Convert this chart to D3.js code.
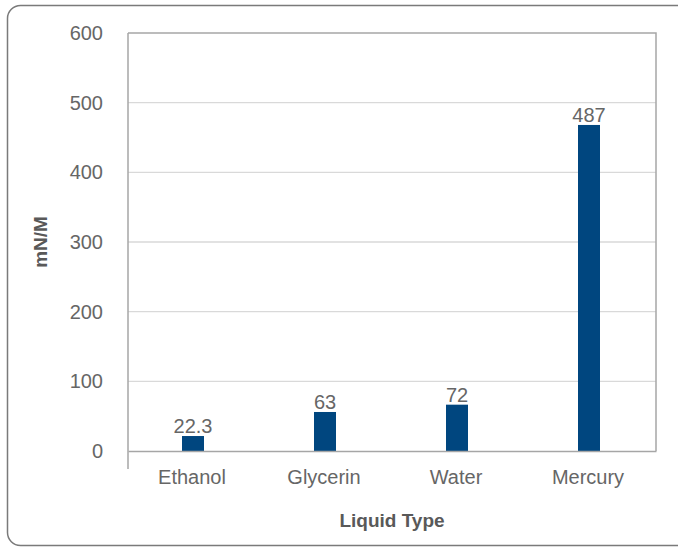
<!DOCTYPE html>
<html>
<head>
<meta charset="utf-8">
<script src="https://cdn.jsdelivr.net/npm/d3@7"></script>
<style>
  html, body { margin: 0; padding: 0; background: #fff; }
  svg { display: block; }
  text { font-family: "Liberation Sans", Arial, sans-serif; }
</style>
</head>
<body>
<svg id="chart" width="678" height="548"></svg>
<script>
const categories = ["Ethanol", "Glycerin", "Water", "Mercury"];
const values = [21.5, 56, 66.5, 468];
const valueLabels = ["22.3", "63", "72", "487"];
const yTicks = [0, 100, 200, 300, 400, 500, 600];
const xTitle = "Liquid Type";
const yTitle = "mN/M";

const svg = d3.select("#chart");
const W = 678, H = 548;
const m = { left: 128, right: 22, top: 33, bottom: 97 };
const pw = W - m.left - m.right, ph = H - m.top - m.bottom;

// outer frame
svg.append("rect")
  .attr("x", 7.5).attr("y", 5.5)
  .attr("width", 720).attr("height", 540).attr("rx", 13)
  .attr("fill", "none").attr("stroke", "#7a7a7a").attr("stroke-width", 1.5);

const g = svg.append("g").attr("transform", `translate(${m.left},${m.top})`);

const x = d3.scaleBand().domain(categories).range([0, pw]).paddingInner(0).paddingOuter(0);
const y = d3.scaleLinear().domain([0, 600]).range([ph, 0]);

// gridlines
g.selectAll("line.grid").data(yTicks.filter(d => d > 0 && d < 600)).join("line")
  .attr("class", "grid")
  .attr("x1", 0).attr("x2", pw)
  .attr("y1", d => y(d)).attr("y2", d => y(d))
  .attr("stroke", "#d9d9d9").attr("stroke-width", 1.3);

// plot border top/right
g.append("path")
  .attr("d", `M0,${y(600)}H${pw}V${y(0)}`)
  .attr("fill", "none").attr("stroke", "#a6a6a6").attr("stroke-width", 1.5);

// bars
const bw = 22;
g.selectAll("rect.bar").data(values).join("rect")
  .attr("class", "bar")
  .attr("x", (d, i) => x(categories[i]) + x.bandwidth() / 2 - bw / 2 - 1)
  .attr("width", bw)
  .attr("y", d => y(d))
  .attr("height", d => y(0) - y(d))
  .attr("fill", "#00467f");

// value labels
g.selectAll("text.val").data(values).join("text")
  .attr("class", "val")
  .attr("x", (d, i) => x(categories[i]) + x.bandwidth() / 2 - 1)
  .attr("y", d => y(d) - 3)
  .attr("text-anchor", "middle")
  .attr("font-size", 20).attr("fill", "#666")
  .text((d, i) => valueLabels[i]);

// y axis
const yAxis = d3.axisLeft(y).tickValues(yTicks).tickSize(0).tickPadding(25);
const ya = g.append("g").call(yAxis);
ya.select(".domain").remove();
ya.selectAll("text").attr("font-size", 20).attr("fill", "#666")
  .attr("font-family", "'Liberation Sans', Arial, sans-serif");

// left axis line (extends below zero)
g.append("line")
  .attr("x1", 0).attr("x2", 0).attr("y1", y(600)).attr("y2", y(0) + 18)
  .attr("stroke", "#a6a6a6").attr("stroke-width", 1.5);

// x axis
const xAxis = d3.axisBottom(x).tickSize(0).tickPadding(19);
const xa = g.append("g").attr("transform", `translate(0,${y(0)})`).call(xAxis);
xa.select(".domain").attr("stroke", "#a6a6a6").attr("stroke-width", 1.5);
xa.selectAll("text").attr("font-size", 20).attr("fill", "#666")
  .attr("dx", -2)
  .attr("font-family", "'Liberation Sans', Arial, sans-serif");

// titles
svg.append("text")
  .attr("x", m.left + pw / 2).attr("y", 527)
  .attr("text-anchor", "middle")
  .attr("font-size", 19).attr("font-weight", "bold").attr("fill", "#595959")
  .text(xTitle);

svg.append("text")
  .attr("transform", `translate(47,${m.top + ph / 2}) rotate(-90)`)
  .attr("text-anchor", "middle")
  .attr("font-size", 19).attr("font-weight", "bold").attr("fill", "#595959")
  .text(yTitle);
</script>
</body>
</html>
